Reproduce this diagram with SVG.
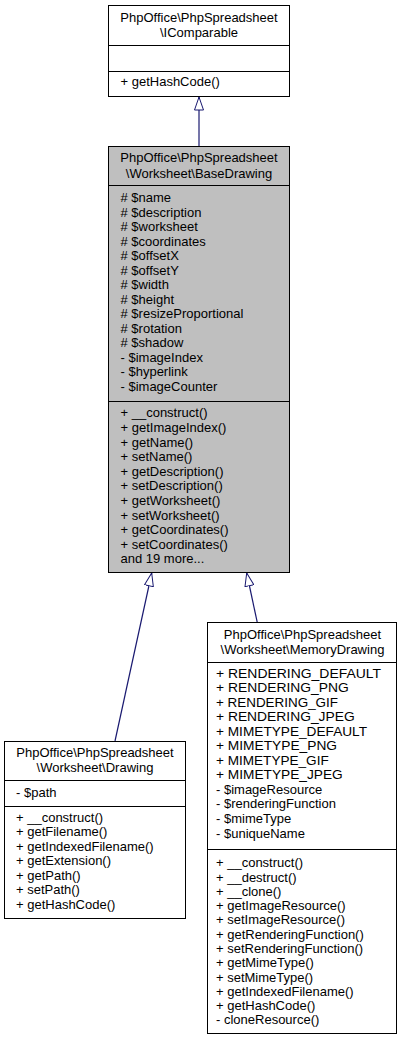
<svg xmlns="http://www.w3.org/2000/svg" width="403" height="1043" viewBox="0 0 403 1043">
<defs>
<style>
text{font-family:"Liberation Sans",Arial,Helvetica,sans-serif;font-size:13px;fill:#000}
.t{text-anchor:middle}
.box{fill:#fff;stroke:#000;stroke-width:1}
.gray{fill:#bfbfbf;stroke:#000;stroke-width:1}
.sep{stroke:#000;stroke-width:1;fill:none}
.edge{stroke:#191970;stroke-width:1.2;fill:none;marker-end:url(#inh)}
</style>
<marker id="inh" viewBox="0 0 14 10" refX="13.5" refY="5" markerWidth="14" markerHeight="10" markerUnits="userSpaceOnUse" orient="auto">
<path d="M0.5,0.5 L13.5,5 L0.5,9.5 z" fill="#fff" stroke="#191970" stroke-width="1"/>
</marker>
</defs>
<rect width="403" height="1043" fill="#fff"/>

<g id="connectors">
<path class="edge" d="M199,147 L199,97"/>
<path class="edge" d="M115,741 L151.7,573"/>
<path class="edge" d="M257.3,622.7 L246.7,573"/>
</g>

<g id="node-IComparable">
<rect class="box" x="108.5" y="5.5" width="181" height="91"/>
<text class="t" x="199" y="21.5">PhpOffice\PhpSpreadsheet</text>
<text class="t" x="199" y="37">\IComparable</text>
<path class="sep" d="M108.5,45.5 H289.5 M108.5,71.5 H289.5"/>
<text x="120.5" y="86">+ getHashCode()</text>
</g>

<g id="node-BaseDrawing">
<rect class="gray" x="108.5" y="146.5" width="181" height="426"/>
<text class="t" x="199" y="162.3">PhpOffice\PhpSpreadsheet</text>
<text class="t" x="199" y="177.7">\Worksheet\BaseDrawing</text>
<path class="sep" d="M108.5,185.5 H289.5 M108.5,401.5 H289.5"/>
<text x="120.5" y="202">
<tspan x="120.5" y="202"># $name</tspan>
<tspan x="120.5" y="216.5"># $description</tspan>
<tspan x="120.5" y="231"># $worksheet</tspan>
<tspan x="120.5" y="245.5"># $coordinates</tspan>
<tspan x="120.5" y="260"># $offsetX</tspan>
<tspan x="120.5" y="274.5"># $offsetY</tspan>
<tspan x="120.5" y="289"># $width</tspan>
<tspan x="120.5" y="303.5"># $height</tspan>
<tspan x="120.5" y="318"># $resizeProportional</tspan>
<tspan x="120.5" y="332.5"># $rotation</tspan>
<tspan x="120.5" y="347"># $shadow</tspan>
<tspan x="120.5" y="361.5">- $imageIndex</tspan>
<tspan x="120.5" y="376">- $hyperlink</tspan>
<tspan x="120.5" y="390.5">- $imageCounter</tspan>
</text>
<text x="120.5" y="417.3">
<tspan x="120.5" y="417.3">+ __construct()</tspan>
<tspan x="120.5" y="431.9">+ getImageIndex()</tspan>
<tspan x="120.5" y="446.5">+ getName()</tspan>
<tspan x="120.5" y="461.1">+ setName()</tspan>
<tspan x="120.5" y="475.7">+ getDescription()</tspan>
<tspan x="120.5" y="490.3">+ setDescription()</tspan>
<tspan x="120.5" y="504.9">+ getWorksheet()</tspan>
<tspan x="120.5" y="519.5">+ setWorksheet()</tspan>
<tspan x="120.5" y="534.1">+ getCoordinates()</tspan>
<tspan x="120.5" y="548.7">+ setCoordinates()</tspan>
<tspan x="120.5" y="563.3">and 19 more...</tspan>
</text>
</g>

<g id="node-Drawing">
<rect class="box" x="4.5" y="741.5" width="181" height="177"/>
<text class="t" x="95" y="757.3">PhpOffice\PhpSpreadsheet</text>
<text class="t" x="95" y="771.7">\Worksheet\Drawing</text>
<path class="sep" d="M4.5,780.5 H185.5 M4.5,806.5 H185.5"/>
<text x="16" y="796.5">- $path</text>
<text x="16" y="821.8">
<tspan x="16" y="821.8">+ __construct()</tspan>
<tspan x="16" y="836.3">+ getFilename()</tspan>
<tspan x="16" y="850.8">+ getIndexedFilename()</tspan>
<tspan x="16" y="865.3">+ getExtension()</tspan>
<tspan x="16" y="879.8">+ getPath()</tspan>
<tspan x="16" y="894.3">+ setPath()</tspan>
<tspan x="16" y="908.8">+ getHashCode()</tspan>
</text>
</g>

<g id="node-MemoryDrawing">
<rect class="box" x="207.5" y="622.5" width="189" height="411"/>
<text class="t" x="302.5" y="639.3">PhpOffice\PhpSpreadsheet</text>
<text class="t" x="302.5" y="654.3">\Worksheet\MemoryDrawing</text>
<path class="sep" d="M207.5,662.5 H396.5 M207.5,849.5 H396.5"/>
<text x="216" y="677.5" textLength="165" lengthAdjust="spacingAndGlyphs">+ RENDERING_DEFAULT</text>
<text x="216" y="692" textLength="132.7" lengthAdjust="spacingAndGlyphs">+ RENDERING_PNG</text>
<text x="216" y="706.6" textLength="122" lengthAdjust="spacingAndGlyphs">+ RENDERING_GIF</text>
<text x="216" y="721.1" textLength="138.7" lengthAdjust="spacingAndGlyphs">+ RENDERING_JPEG</text>
<text x="216" y="735.7" textLength="151" lengthAdjust="spacingAndGlyphs">+ MIMETYPE_DEFAULT</text>
<text x="216" y="750.2" textLength="121" lengthAdjust="spacingAndGlyphs">+ MIMETYPE_PNG</text>
<text x="216" y="764.8" textLength="112.7" lengthAdjust="spacingAndGlyphs">+ MIMETYPE_GIF</text>
<text x="216" y="779.3" textLength="126.7" lengthAdjust="spacingAndGlyphs">+ MIMETYPE_JPEG</text>
<text x="216" y="793.9">
<tspan x="216" y="793.9">- $imageResource</tspan>
<tspan x="216" y="808.4">- $renderingFunction</tspan>
<tspan x="216" y="823">- $mimeType</tspan>
<tspan x="216" y="837.5">- $uniqueName</tspan>
</text>
<text x="216" y="867.3">
<tspan x="216" y="867.3">+ __construct()</tspan>
<tspan x="216" y="881.6">+ __destruct()</tspan>
<tspan x="216" y="895.8">+ __clone()</tspan>
<tspan x="216" y="910.1">+ getImageResource()</tspan>
<tspan x="216" y="924.4">+ setImageResource()</tspan>
<tspan x="216" y="938.7">+ getRenderingFunction()</tspan>
<tspan x="216" y="952.9">+ setRenderingFunction()</tspan>
<tspan x="216" y="967.2">+ getMimeType()</tspan>
<tspan x="216" y="981.5">+ setMimeType()</tspan>
<tspan x="216" y="995.7">+ getIndexedFilename()</tspan>
<tspan x="216" y="1010">+ getHashCode()</tspan>
<tspan x="216" y="1024.3">- cloneResource()</tspan>
</text>
</g>
</svg>
